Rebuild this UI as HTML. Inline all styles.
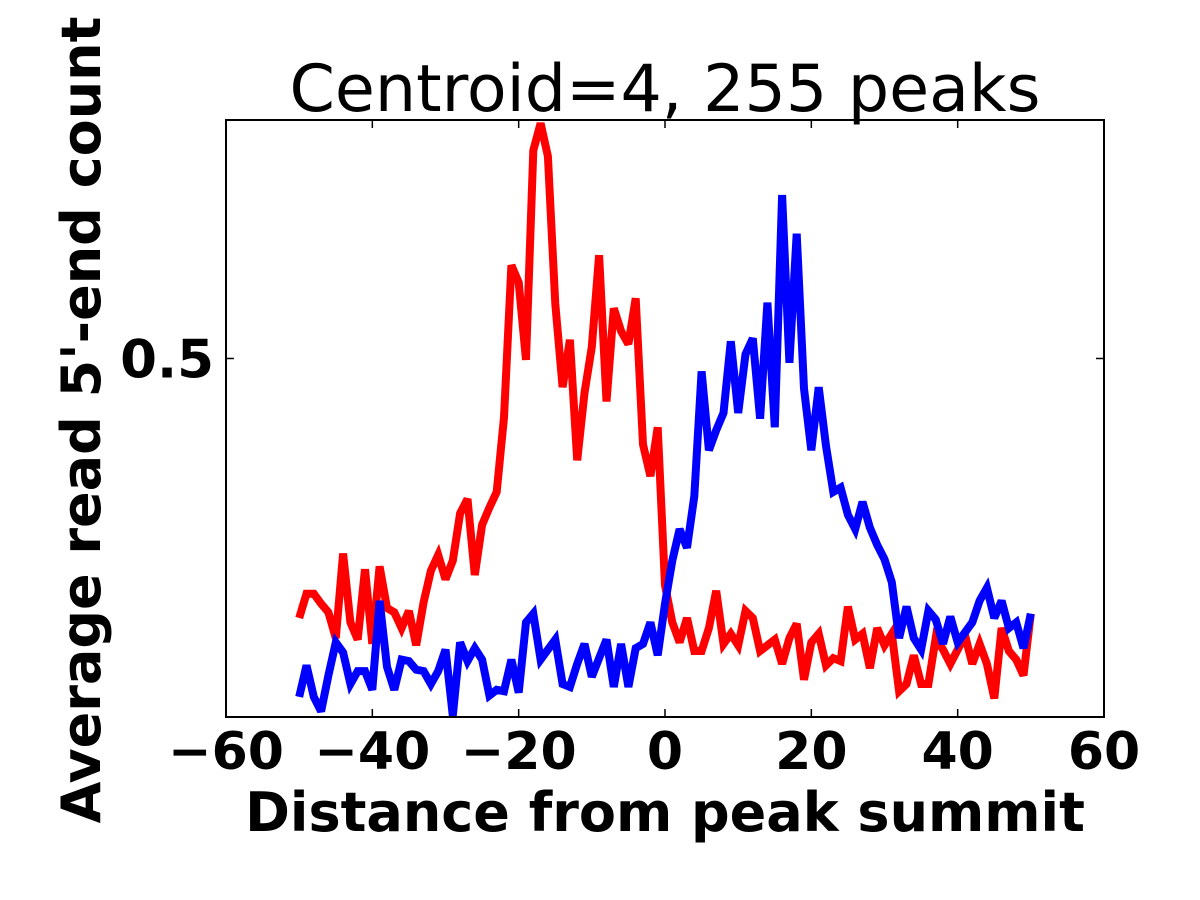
<!DOCTYPE html>
<html><head><meta charset="utf-8"><style>
html,body{margin:0;padding:0;background:#fff;}
svg{display:block;font-family:"DejaVu Sans","Liberation Sans",sans-serif;}
</style></head><body>
<svg id="chart" width="1200" height="900">
<rect width="1200" height="900" fill="#fff"/>
<text x="665" y="111" font-size="65" text-anchor="middle">Centroid=4, 255 peaks</text>
<g id="series"></g>
<rect x="226" y="120" width="878" height="597" fill="none" stroke="#000" stroke-width="2"/>
<g id="ticks"></g>
<text x="665" y="831" font-size="54" font-weight="bold" text-anchor="middle">Distance from peak summit</text>
<text transform="translate(100,420) rotate(-90)" font-size="54" font-weight="bold" text-anchor="middle">Average read 5'-end count</text>
</svg>
<script>
const xTicks = [-60,-40,-20,0,20,40,60];
const xTickLabels = ["\u221260","\u221240","\u221220","0","20","40","60"];
const yTicks = [0.5];
const yTickLabels = ["0.5"];
const xStart = -50;
const redValues = [0.319,0.336,0.336,0.329,0.323,0.305,0.364,0.316,0.304,0.353,0.301,0.355,0.326,0.323,0.312,0.324,0.300,0.330,0.352,0.363,0.346,0.359,0.392,0.402,0.349,0.384,0.396,0.407,0.459,0.565,0.553,0.499,0.645,0.664,0.641,0.538,0.480,0.513,0.429,0.476,0.508,0.572,0.470,0.535,0.519,0.510,0.542,0.440,0.418,0.452,
0.342,0.316,0.302,0.319,0.296,0.296,0.312,0.338,0.301,0.308,0.300,0.324,0.319,0.296,0.300,0.304,0.287,0.305,0.315,0.276,0.302,0.308,0.286,0.291,0.289,0.327,0.304,0.308,0.284,0.312,0.300,0.308,0.268,0.273,0.293,0.273,0.273,0.305,0.297,0.287,0.297,0.307,0.287,0.301,0.287,0.263,0.312,0.296,0.290,0.279,0.322];
const blueValues = [0.264,0.286,0.264,0.254,0.279,0.302,0.295,0.273,0.282,0.282,0.269,0.331,0.285,0.269,0.290,0.289,0.283,0.282,0.273,0.282,0.297,0.251,0.302,0.289,0.298,0.290,0.265,0.269,0.268,0.290,0.267,0.316,0.322,0.290,0.297,0.304,0.273,0.271,0.287,0.301,0.278,0.291,0.304,0.271,0.301,0.271,0.298,0.301,0.316,0.293,
0.329,0.359,0.381,0.368,0.404,0.491,0.436,0.450,0.462,0.512,0.462,0.503,0.514,0.458,0.539,0.452,0.614,0.497,0.587,0.479,0.436,0.480,0.439,0.407,0.410,0.391,0.381,0.400,0.382,0.370,0.360,0.344,0.305,0.327,0.305,0.297,0.324,0.318,0.301,0.320,0.302,0.309,0.316,0.331,0.340,0.319,0.331,0.312,0.316,0.298,0.322];

const NS="http://www.w3.org/2000/svg";
const X0=226,X1=1104,Y0=717,Y1=120;
const xMin=-60,xMax=60,yMin=0.25,yMax=0.6663;
function sx(v){return X0+(v-xMin)/(xMax-xMin)*(X1-X0);}
function sy(v){return Y0-(v-yMin)/(yMax-yMin)*(Y0-Y1);}
const series=document.getElementById('series');
function drawLine(vals,color,name){
  const p=document.createElementNS(NS,'polyline');
  p.setAttribute('points',vals.map((v,i)=>sx(xStart+i).toFixed(1)+','+sy(v).toFixed(1)).join(' '));
  p.setAttribute('fill','none');p.setAttribute('stroke',color);
  p.setAttribute('stroke-width','8');p.setAttribute('stroke-linejoin','miter');p.setAttribute('stroke-miterlimit','3');
  
  
  series.appendChild(p);
}
drawLine(redValues,'#ff0000','red-series-line');
drawLine(blueValues,'#0000ff','blue-series-line');
const tg=document.getElementById('ticks');
function line(x1,y1,x2,y2,name){
  const l=document.createElementNS(NS,'line');
  l.setAttribute('x1',x1);l.setAttribute('y1',y1);l.setAttribute('x2',x2);l.setAttribute('y2',y2);
  l.setAttribute('stroke','#000');l.setAttribute('stroke-width','1.5');
  
  
  tg.appendChild(l);
}
xTicks.forEach((t,i)=>{
  const x=sx(t);
  line(x,Y0,x,Y0-8,'x-tick');line(x,Y1,x,Y1+8,'x-tick-top');
  const tx=document.createElementNS(NS,'text');
  tx.setAttribute('x',x);tx.setAttribute('y',769);tx.setAttribute('font-size','52');tx.setAttribute('font-weight','bold');tx.setAttribute('text-anchor','middle');
  tx.textContent=xTickLabels[i];
  
  
  tg.appendChild(tx);
});
yTicks.forEach((t,i)=>{
  const y=sy(t);
  line(X0,y,X0+8,y,'y-tick');line(X1,y,X1-8,y,'y-tick-right');
  const tx=document.createElementNS(NS,'text');
  tx.setAttribute('x',214);tx.setAttribute('y',y+19);tx.setAttribute('font-size','53');tx.setAttribute('font-weight','bold');tx.setAttribute('text-anchor','end');
  tx.textContent=yTickLabels[i];
  
  
  tg.appendChild(tx);
});
</script>
</body></html>
